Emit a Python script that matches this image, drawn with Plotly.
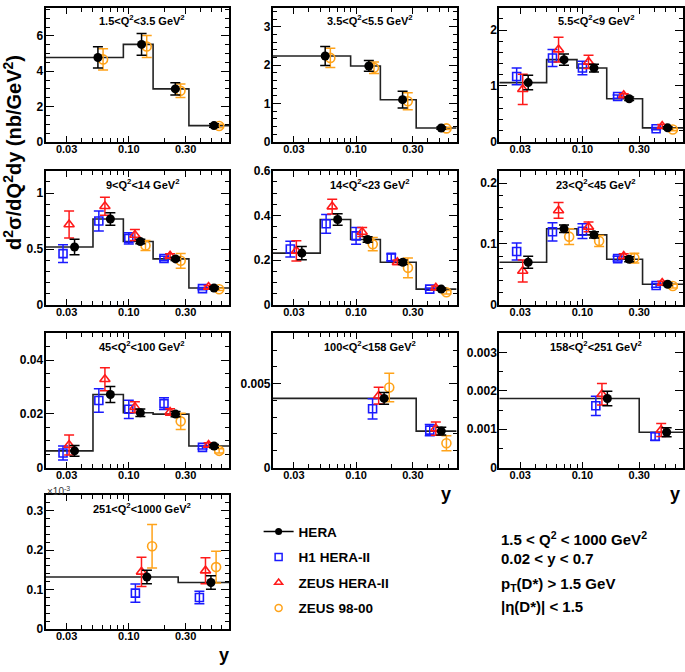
import numpy as np
import plotly.graph_objects as go

# ---- values ----
Q2_BINS = ["1.5&lt;Q<sup>2</sup>&lt;3.5 GeV<sup>2</sup>", "3.5&lt;Q<sup>2</sup>&lt;5.5 GeV<sup>2</sup>",
           "5.5&lt;Q<sup>2</sup>&lt;9 GeV<sup>2</sup>", "9&lt;Q<sup>2</sup>&lt;14 GeV<sup>2</sup>",
           "14&lt;Q<sup>2</sup>&lt;23 GeV<sup>2</sup>", "23&lt;Q<sup>2</sup>&lt;45 GeV<sup>2</sup>",
           "45&lt;Q<sup>2</sup>&lt;100 GeV<sup>2</sup>", "100&lt;Q<sup>2</sup>&lt;158 GeV<sup>2</sup>",
           "158&lt;Q<sup>2</sup>&lt;251 GeV<sup>2</sup>", "251&lt;Q<sup>2</sup>&lt;1000 GeV<sup>2</sup>"]

# y-bin edges of the HERA histogram in every Q2 bin
Y_EDGES = [
    [0.02, 0.09, 0.16, 0.32, 0.7],
    [0.02, 0.09, 0.16, 0.32, 0.7],
    [0.02, 0.05, 0.09, 0.16, 0.32, 0.7],
    [0.02, 0.05, 0.09, 0.16, 0.32, 0.7],
    [0.02, 0.05, 0.09, 0.16, 0.32, 0.7],
    [0.02, 0.05, 0.09, 0.16, 0.32, 0.7],
    [0.02, 0.05, 0.09, 0.16, 0.32, 0.7],
    [0.02, 0.32, 0.7],
    [0.02, 0.30, 0.7],
    [0.02, 0.26, 0.7],
]
# y where the HERA points sit
Y_POINT = [
    [0.055, 0.128, 0.246, 0.52],
    [0.055, 0.128, 0.246, 0.52],
    [0.035, 0.070, 0.125, 0.247, 0.52],
    [0.035, 0.070, 0.125, 0.247, 0.52],
    [0.035, 0.070, 0.125, 0.247, 0.52],
    [0.035, 0.070, 0.125, 0.247, 0.52],
    [0.035, 0.070, 0.125, 0.247, 0.52],
    [0.172, 0.52],
    [0.162, 0.51],
    [0.142, 0.49],
]

# last Q2 bin is given in units of 1e-3 (as on the axis)
HERA_VAL = [
    [4.78, 5.52, 3.0, 0.92],
    [2.24, 1.98, 1.1, 0.36],
    [1.06, 1.47, 1.32, 0.77, 0.25],
    [0.518, 0.769, 0.567, 0.412, 0.152],
    [0.232, 0.382, 0.293, 0.191, 0.071],
    [0.070, 0.125, 0.115, 0.075, 0.034],
    [0.0062, 0.0272, 0.0204, 0.0199, 0.008],
    [0.00412, 0.00217],
    [0.0018, 0.00092],
    [0.132, 0.118],
]
HERA_ERR = [
    [0.6, 0.62, 0.35, 0.1],
    [0.25, 0.14, 0.22, 0.03],
    [0.13, 0.1, 0.07, 0.03, 0.02],
    [0.07, 0.055, 0.02, 0.015, 0.01],
    [0.03, 0.026, 0.012, 0.01, 0.005],
    [0.01, 0.006, 0.005, 0.004, 0.002],
    [0.002, 0.003, 0.0014, 0.001, 0.0006],
    [0.00035, 0.00023],
    [0.00019, 0.00012],
    [0.017, 0.017],
]
H1_VAL = [
    [None] * 4,
    [None] * 4,
    [1.17, 1.50, 1.32, 0.81, 0.235],
    [0.459, 0.751, 0.596, 0.415, 0.146],
    [0.25, 0.363, 0.309, 0.213, 0.071],
    [0.0877, 0.12, 0.121, 0.076, 0.032],
    [0.0054, 0.025, 0.0217, 0.0238, 0.0075],
    [0.0035, 0.00223],
    [0.00161, 0.00081],
    [0.091, 0.080],
]
H1_ERR = [
    [None] * 4,
    [None] * 4,
    [0.15, 0.15, 0.12, 0.03, 0.02],
    [0.08, 0.09, 0.05, 0.02, 0.01],
    [0.035, 0.042, 0.037, 0.015, 0.005],
    [0.014, 0.015, 0.012, 0.004, 0.003],
    [0.0026, 0.0044, 0.0034, 0.0022, 0.0006],
    [0.0006, 0.00033],
    [0.00025, 0.0001],
    [0.023, 0.016],
]
ZH2_VAL = [
    [None] * 4,
    [None] * 4,
    [0.94, 1.65, 1.43, 0.83, 0.28],
    [0.72, 0.883, 0.626, 0.439, 0.16],
    [0.242, 0.44, 0.326, 0.191, 0.077],
    [0.0556, 0.155, 0.128, 0.08, 0.036],
    [0.0084, 0.0329, 0.0225, 0.0207, 0.0084],
    [0.00428, 0.00232],
    [0.00191, 0.00098],
    [0.145, 0.148],
]
ZH2_ERR = [
    [None] * 4,
    [None] * 4,
    [0.27, 0.22, 0.12, 0.03, 0.03],
    [0.12, 0.08, 0.05, 0.02, 0.015],
    [0.045, 0.033, 0.02, 0.01, 0.008],
    [0.018, 0.013, 0.008, 0.004, 0.003],
    [0.0037, 0.0043, 0.002, 0.0012, 0.0008],
    [0.0005, 0.0004],
    [0.00028, 0.00017],
    [0.037, 0.033],
]
Z98_VAL = [
    [4.67, 5.4, 2.89, 0.9],
    [2.19, 1.93, 1.06, 0.35],
    [None, None, None, None, 0.22],
    [None, None, 0.532, 0.395, 0.14],
    [None, None, 0.272, 0.166, 0.057],
    [None, 0.112, 0.105, 0.077, 0.031],
    [None, None, None, 0.0172, 0.0062],
    [0.00477, 0.00145],
    [None, None],
    [0.21, 0.157],
]
Z98_ERR = [
    [0.6, 0.62, 0.38, 0.1],
    [0.25, 0.15, 0.22, 0.03],
    [None, None, None, None, 0.02],
    [None, None, 0.045, 0.066, 0.01],
    [None, None, 0.03, 0.044, 0.008],
    [None, 0.013, 0.009, 0.008, 0.003],
    [None, None, None, 0.003, 0.0008],
    [0.00085, 0.00045],
    [None, None],
    [0.055, 0.04],
]

X_TICK_VALS = [0.03, 0.1, 0.3]
X_TICK_TEXT = ["0.03", "0.10", "0.30"]
X_MINOR = [0.02, 0.04, 0.05, 0.06, 0.07, 0.08, 0.09, 0.2, 0.4, 0.5, 0.6, 0.7]

Y_MAX = [7.6, 3.5, 2.4, 1.2, 0.6, 0.22, 0.05, 0.008, 0.0035, 0.34]
Y_DTICK = [2, 1, 1, 0.5, 0.2, 0.1, 0.02, 0.005, 0.001, 0.1]
Y_MINOR = [0.5, 0.2, 0.2, 0.1, 0.05, 0.02, 0.005, 0.001, 0.0005, 0.02]

LEGEND_NAMES = ["HERA", "H1 HERA-II", "ZEUS HERA-II", "ZEUS 98-00"]
CUTS = ["1.5 &lt; Q<sup>2</sup> &lt; 1000 GeV<sup>2</sup>", "0.02 &lt; y &lt; 0.7",
        "p<sub>T</sub>(D*) &gt; 1.5 GeV", "|η(D*)| &lt; 1.5"]

# ---- styling ----
W, H = 685, 672
FONT = "Liberation Sans, Arial, Helvetica, sans-serif"
COL_LEFT = [45.7, 273.3, 500.0]
ROW_TOP = [0.7, 167.3, 333.3, 498.3]
PW, PH = 184.0, 137.0


def fx(px):
    return px / W


def fy(py):
    return 1 - py / H


BLUE, RED, ORANGE = "#1a1aff", "#ff1a1a", "#ffa31a"
# small y-offsets so the experiments don't sit on top of each other
SHIFT = {"H1": 0.80, "ZH2": 0.90, "Z98": 1.105}

fig = go.Figure()
layout = {}

for i in range(10):
    r, c = divmod(i, 3)
    n = "" if i == 0 else str(i + 1)

    layout["xaxis" + n] = dict(
        domain=[fx(COL_LEFT[c]), min(fx(COL_LEFT[c] + PW), 1)], anchor="y" + n, type="log",
        range=[np.log10(0.02), np.log10(0.7)],
        tickmode="array", tickvals=X_TICK_VALS, ticktext=X_TICK_TEXT,
        ticks="inside", ticklen=6, tickwidth=1.3, tickcolor="black",
        minor=dict(tickmode="array", tickvals=X_MINOR, ticks="inside",
                   ticklen=4, tickwidth=1.2, tickcolor="black"),
        showline=True, linecolor="black", linewidth=2, mirror="ticks",
        showgrid=False, zeroline=False, ticklabelstandoff=-4,
        tickfont=dict(family=FONT, size=11, color="black", weight="bold"),
    )
    layout["yaxis" + n] = dict(
        domain=[fy(ROW_TOP[r] + PH), min(fy(ROW_TOP[r]), 1)], anchor="x" + n,
        range=[0, Y_MAX[i]], tickmode="linear", tick0=0, dtick=Y_DTICK[i],
        ticks="inside", ticklen=8, tickwidth=1.3, tickcolor="black",
        minor=dict(dtick=Y_MINOR[i], ticks="inside", ticklen=4,
                   tickwidth=1.2, tickcolor="black"),
        showline=True, linecolor="black", linewidth=2, mirror="ticks",
        showgrid=False, zeroline=False, ticklabelstandoff=-2,
        tickfont=dict(family=FONT, size=12, color="black", weight="bold"),
    )

    xa, ya = "x" + n, "y" + n
    edges = Y_EDGES[i]
    pts = np.array(Y_POINT[i])

    # HERA histogram
    fig.add_trace(go.Scatter(
        x=edges, y=HERA_VAL[i] + [HERA_VAL[i][-1]], mode="lines",
        line=dict(color="#222222", width=1.6, shape="hv"),
        xaxis=xa, yaxis=ya, showlegend=False, hoverinfo="skip"))

    sets = [
        (H1_VAL[i], H1_ERR[i], pts * SHIFT["H1"], BLUE, "square-open", 8),
        (ZH2_VAL[i], ZH2_ERR[i], pts * SHIFT["ZH2"], RED, "triangle-up-open", 9),
        (Z98_VAL[i], Z98_ERR[i], pts * SHIFT["Z98"], ORANGE, "circle-open", 9),
    ]
    for vals, errs, xs, col, sym, sz in sets:
        if all(v is None for v in vals):
            continue
        fig.add_trace(go.Scatter(
            x=xs, y=vals, mode="markers",
            marker=dict(symbol=sym, size=sz, color=col, line=dict(width=1.6, color=col)),
            error_y=dict(type="data", array=errs, color=col, thickness=1.5, width=5),
            xaxis=xa, yaxis=ya, showlegend=False))

    fig.add_trace(go.Scatter(
        x=pts, y=HERA_VAL[i], mode="markers",
        marker=dict(symbol="circle", size=9, color="black"),
        error_y=dict(type="data", array=HERA_ERR[i], color="black", thickness=1.5, width=5),
        xaxis=xa, yaxis=ya, showlegend=False))

# legend-only entries
leg_styles = [
    dict(mode="lines+markers", marker=dict(symbol="circle", size=7, color="black"),
         line=dict(color="black", width=1.5)),
    dict(mode="markers", marker=dict(symbol="square-open", size=7, color=BLUE, line=dict(width=1.5, color=BLUE))),
    dict(mode="markers", marker=dict(symbol="triangle-up-open", size=7, color=RED, line=dict(width=1.5, color=RED))),
    dict(mode="markers", marker=dict(symbol="circle-open", size=7, color=ORANGE, line=dict(width=1.5, color=ORANGE))),
]
for k, (name, st) in enumerate(zip(LEGEND_NAMES, leg_styles)):
    fig.add_trace(go.Scatter(x=[None], y=[None], name=name, legendgroup=str(k),
                             xaxis="x", yaxis="y", showlegend=True, **st))

annotations = []
for i in range(10):
    r, c = divmod(i, 3)
    annotations.append(dict(
        text=Q2_BINS[i], x=fx(COL_LEFT[c] + PW / 2 + 5), y=fy(ROW_TOP[r] + 13),
        xref="paper", yref="paper", showarrow=False, xanchor="center", yanchor="middle",
        font=dict(family=FONT, size=11, color="black", weight="bold")))

# axis titles
annotations.append(dict(
    text="d<sup>2</sup>σ/dQ<sup>2</sup>dy (nb/GeV<sup>2</sup>)", x=fx(13), y=fy(148),
    xref="paper", yref="paper", showarrow=False, textangle=-90,
    xanchor="center", yanchor="middle",
    font=dict(family=FONT, size=20, color="black", weight="bold")))
for px, py in [(447, 497), (676, 497), (224, 662)]:
    annotations.append(dict(
        text="y", x=fx(px), y=fy(py), xref="paper", yref="paper", showarrow=False,
        xanchor="center", yanchor="middle",
        font=dict(family=FONT, size=18, color="black", weight="bold")))
annotations.append(dict(
    text="×10<sup>-3</sup>", x=fx(45), y=fy(494), xref="paper", yref="paper",
    showarrow=False, xanchor="left", yanchor="middle",
    font=dict(family=FONT, size=10, color="#333333")))

# selection cuts
for txt, py in zip(CUTS, [543, 563, 590, 612]):
    annotations.append(dict(
        text=txt, x=fx(500), y=fy(py), xref="paper", yref="paper", showarrow=False,
        xanchor="left", yanchor="middle",
        font=dict(family=FONT, size=15, color="black", weight="bold")))

fig.update_layout(
    width=W, height=H, margin=dict(l=0, r=0, t=0, b=0),
    paper_bgcolor="white", plot_bgcolor="white",
    annotations=annotations,
    legend=dict(x=fx(259), y=fy(520), xanchor="left", yanchor="top",
                traceorder="grouped", tracegroupgap=5, bgcolor="rgba(0,0,0,0)",
                font=dict(family=FONT, size=13.5, color="black", weight="bold")),
    **layout,
)

# drop the default 8px page margin so the figure sits at the window corner
fig.write_html("out.html", config={"displayModeBar": False},
               post_script="document.body.style.margin='0';")
